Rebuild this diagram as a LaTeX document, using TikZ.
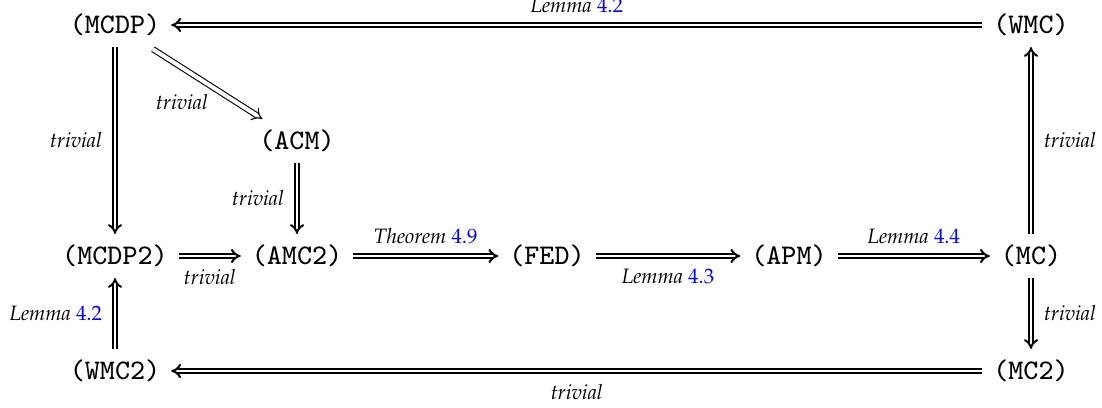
\documentclass[tikz,border=0pt]{standalone}
\usepackage[T1,TU]{fontenc}
\usepackage{fontspec}
\usetikzlibrary{arrows.meta}
\newfontfamily\stmtfont{lmmono8-regular.otf}
\definecolor{refblue}{RGB}{0,0,255}
\newcommand\lbf{\fontencoding{T1}\fontfamily{ppl}\fontsize{10.4}{12}\selectfont\itshape}
\newcommand\rf[1]{\textcolor{refblue}{\upshape #1}}
\begin{document}
\begin{tikzpicture}[x=0.5pt,y=-0.5pt,
  stmt/.style={inner sep=0pt, outer sep=5.5pt, font=\stmtfont\fontsize{14.2}{16}\selectfont},
  impl/.style={double, double distance=1.3pt, line width=1pt, -{Implies[scale=1.3]}},
  thinimpl/.style={double, double distance=2pt, line width=0.55pt, -{Implies[scale=1.2]}},
  lab/.style={inner sep=0pt, font=\lbf}]
\useasboundingbox (0,0) rectangle (1102,407);
\node[stmt] (MCDP) at (115,25) {(MCDP)};
\node[stmt] (WMC) at (1031,25) {(WMC)};
\node[stmt] (ACM) at (297,141) {(ACM)};
\node[stmt] (MCDP2) at (115,256) {(MCDP2)};
\node[stmt] (AMC2) at (297,256) {(AMC2)};
\node[stmt] (FED) at (547,256) {(FED)};
\node[stmt] (APM) at (789,256) {(APM)};
\node[stmt] (MC) at (1031,256) {(MC)};
\node[stmt] (WMC2) at (115,371) {(WMC2)};
\node[stmt] (MC2) at (1031,371) {(MC2)};

\draw[impl] (WMC) -- node[lab, above=5.5pt] {Lemma \rf{4.2}} (MCDP);
\draw[thinimpl, shorten <=2pt] (MCDP) -- node[lab, xshift=-12pt, yshift=-9.5pt] {trivial} (ACM);
\draw[impl] (MCDP) -- node[lab, left=6pt] {trivial} (MCDP2);
\draw[impl] (ACM) -- node[lab, left=6pt] {trivial} (AMC2);
\draw[impl] (MCDP2) -- node[lab, below=6pt] {trivial} (AMC2);
\draw[impl] (AMC2) -- node[lab, above=5.5pt] {Theorem \rf{4.9}} (FED);
\draw[impl] (FED) -- node[lab, below=6pt] {Lemma \rf{4.3}} (APM);
\draw[impl] (APM) -- node[lab, above=5.5pt] {Lemma \rf{4.4}} (MC);
\draw[impl] (MC) -- node[lab, right=6pt] {trivial} (WMC);
\draw[impl] (MC) -- node[lab, right=6pt] {trivial} (MC2);
\draw[impl] (WMC2) -- node[lab, left=6pt] {Lemma \rf{4.2}} (MCDP2);
\draw[impl] (MC2) -- node[lab, below=6pt] {trivial} (WMC2);
\end{tikzpicture}
\end{document}
